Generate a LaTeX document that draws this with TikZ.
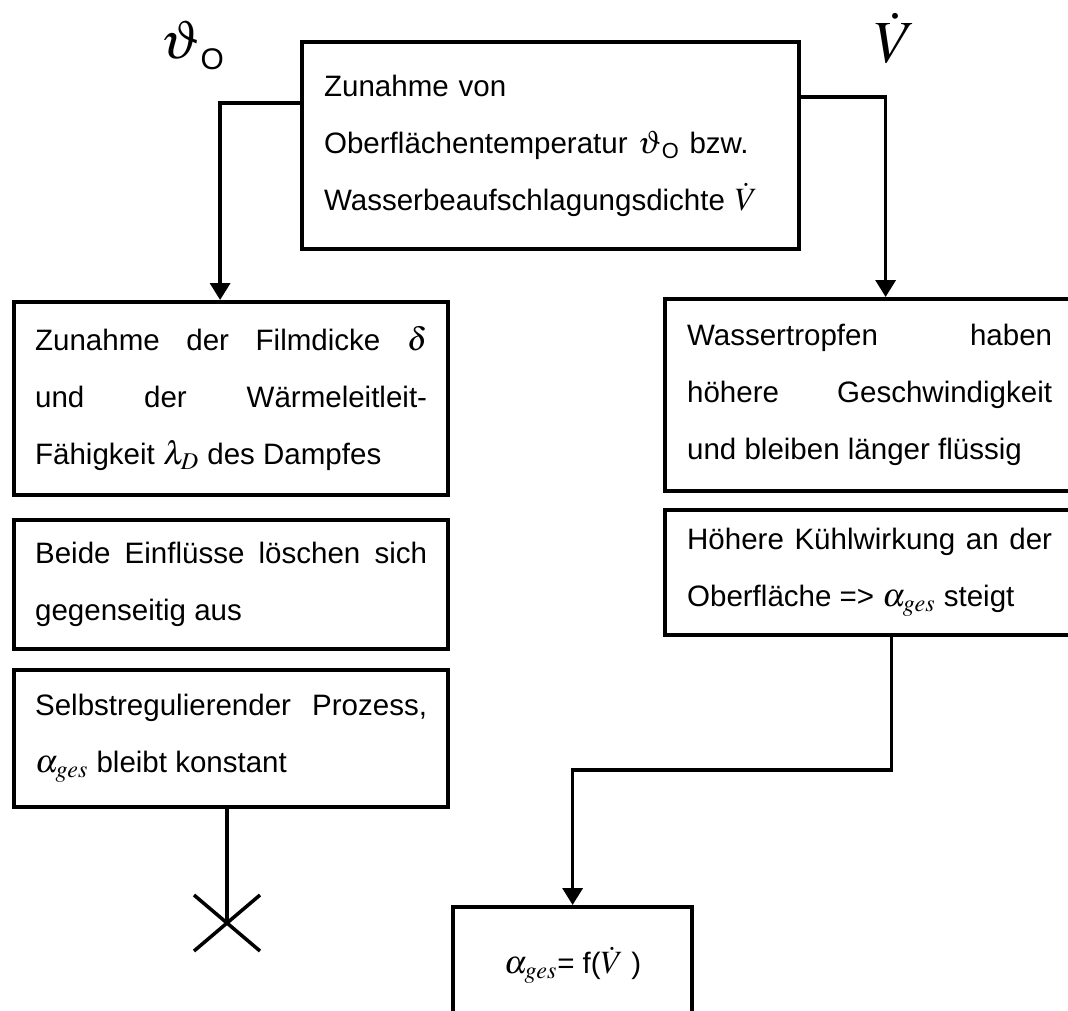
\documentclass[tikz,border=0pt]{standalone}
\usepackage{mathptmx}
\usepackage{fontspec}
\setmainfont{Liberation Sans}
\usetikzlibrary{arrows.meta,calc}
\newcommand{\mgr}[1]{{\fontsize{18.5}{32.4}\selectfont$#1$}}

\begin{document}
\begin{tikzpicture} [box/.style = {draw, line width = 2.4pt, rectangle, anchor = north west, inner ysep = 0pt, font = \fontsize{16.8}{32.4}\selectfont},
	leftbox/.style = {box, minimum width = 8.68cm, text width = 7.84cm, inner xsep = 0.42cm, align = justify},
	rightbox/.style = {box, minimum width = 8.18cm, text width = 7.3cm, inner xsep = 0.44cm, align = justify},
	line/.style = {line width = 2pt},
	arrow/.style = {line, -{Triangle[width = 0.4cm, length = 0.34cm]}}]
	\useasboundingbox (0,0) rectangle (21.36,-20.2);
	\node [box, minimum width = 9.94cm, minimum height = 4.14cm, text width = 9.06cm, inner xsep = 0.44cm, align = left] (zunahme) at (6.0,-0.8) {Zunahme von\\Oberflächentemperatur \mgr{\vartheta}\textsubscript{O} bzw.\\Wasserbeaufschlagungsdichte \mgr{\dot V}};
	\node [leftbox, minimum height = 3.86cm] (film) at (0.24,-6.0) {Zunahme der Filmdicke \mgr{\delta}\linebreak und der Wärmeleitleit-\linebreak Fähigkeit \mgr{\lambda_D} des Dampfes};
	\node [leftbox, minimum height = 2.58cm] (beide) at (0.24,-10.36) {Beide Einflüsse löschen sich\linebreak gegenseitig aus};
	\node [leftbox, minimum height = 2.74cm] (selbst) at (0.24,-13.36) {Selbstregulierender Prozess,\linebreak \mgr{\alpha_{ges}} bleibt konstant};
	\node [rightbox, minimum height = 3.84cm] (tropfen) at (13.26,-5.94) {Wassertropfen haben\linebreak höhere Geschwindigkeit\linebreak und bleiben länger flüssig};
	\node [rightbox, minimum height = 2.5cm] (kuehl) at (13.26,-10.16) {Höhere Kühlwirkung an der\linebreak Oberfläche => \mgr{\alpha_{ges}} steigt};
	\node [box, minimum width = 4.78cm, minimum height = 2.32cm, align = center] (ergebnis) at (9.02,-18.1) {\mgr{\alpha_{ges}}= f(\mgr{\dot V} )};
	\node (theta) at (3.84,-0.9) {\fontsize{31}{36}\selectfont$\vartheta$\raisebox{-0.22cm}{\fontsize{17}{20}\selectfont O}};
	\node (vpunkt) at (17.9,-0.76) {\fontsize{34}{40}\selectfont$\dot V$};
	\coordinate (kreuz) at (4.54,-18.46);
	\draw [arrow] ([yshift = -1.26cm]zunahme.north west) -| ([xshift = -0.22cm]film.north);
	\draw [arrow] ([yshift = -1.14cm]zunahme.north east) -| ([xshift = 0.32cm]tropfen.north);
	\draw [arrow] ([xshift = 0.44cm]kuehl.south) |- ($(ergebnis.north)+(0,2.7)$) -| (ergebnis.north);
	\draw [line] (selbst.south -| kreuz) -- (kreuz);
	\draw [line] ($(kreuz)+(-0.66,0.56)$) -- ($(kreuz)+(0.66,-0.56)$);
	\draw [line] ($(kreuz)+(-0.66,-0.56)$) -- ($(kreuz)+(0.66,0.56)$);
\end{tikzpicture}
\end{document}
